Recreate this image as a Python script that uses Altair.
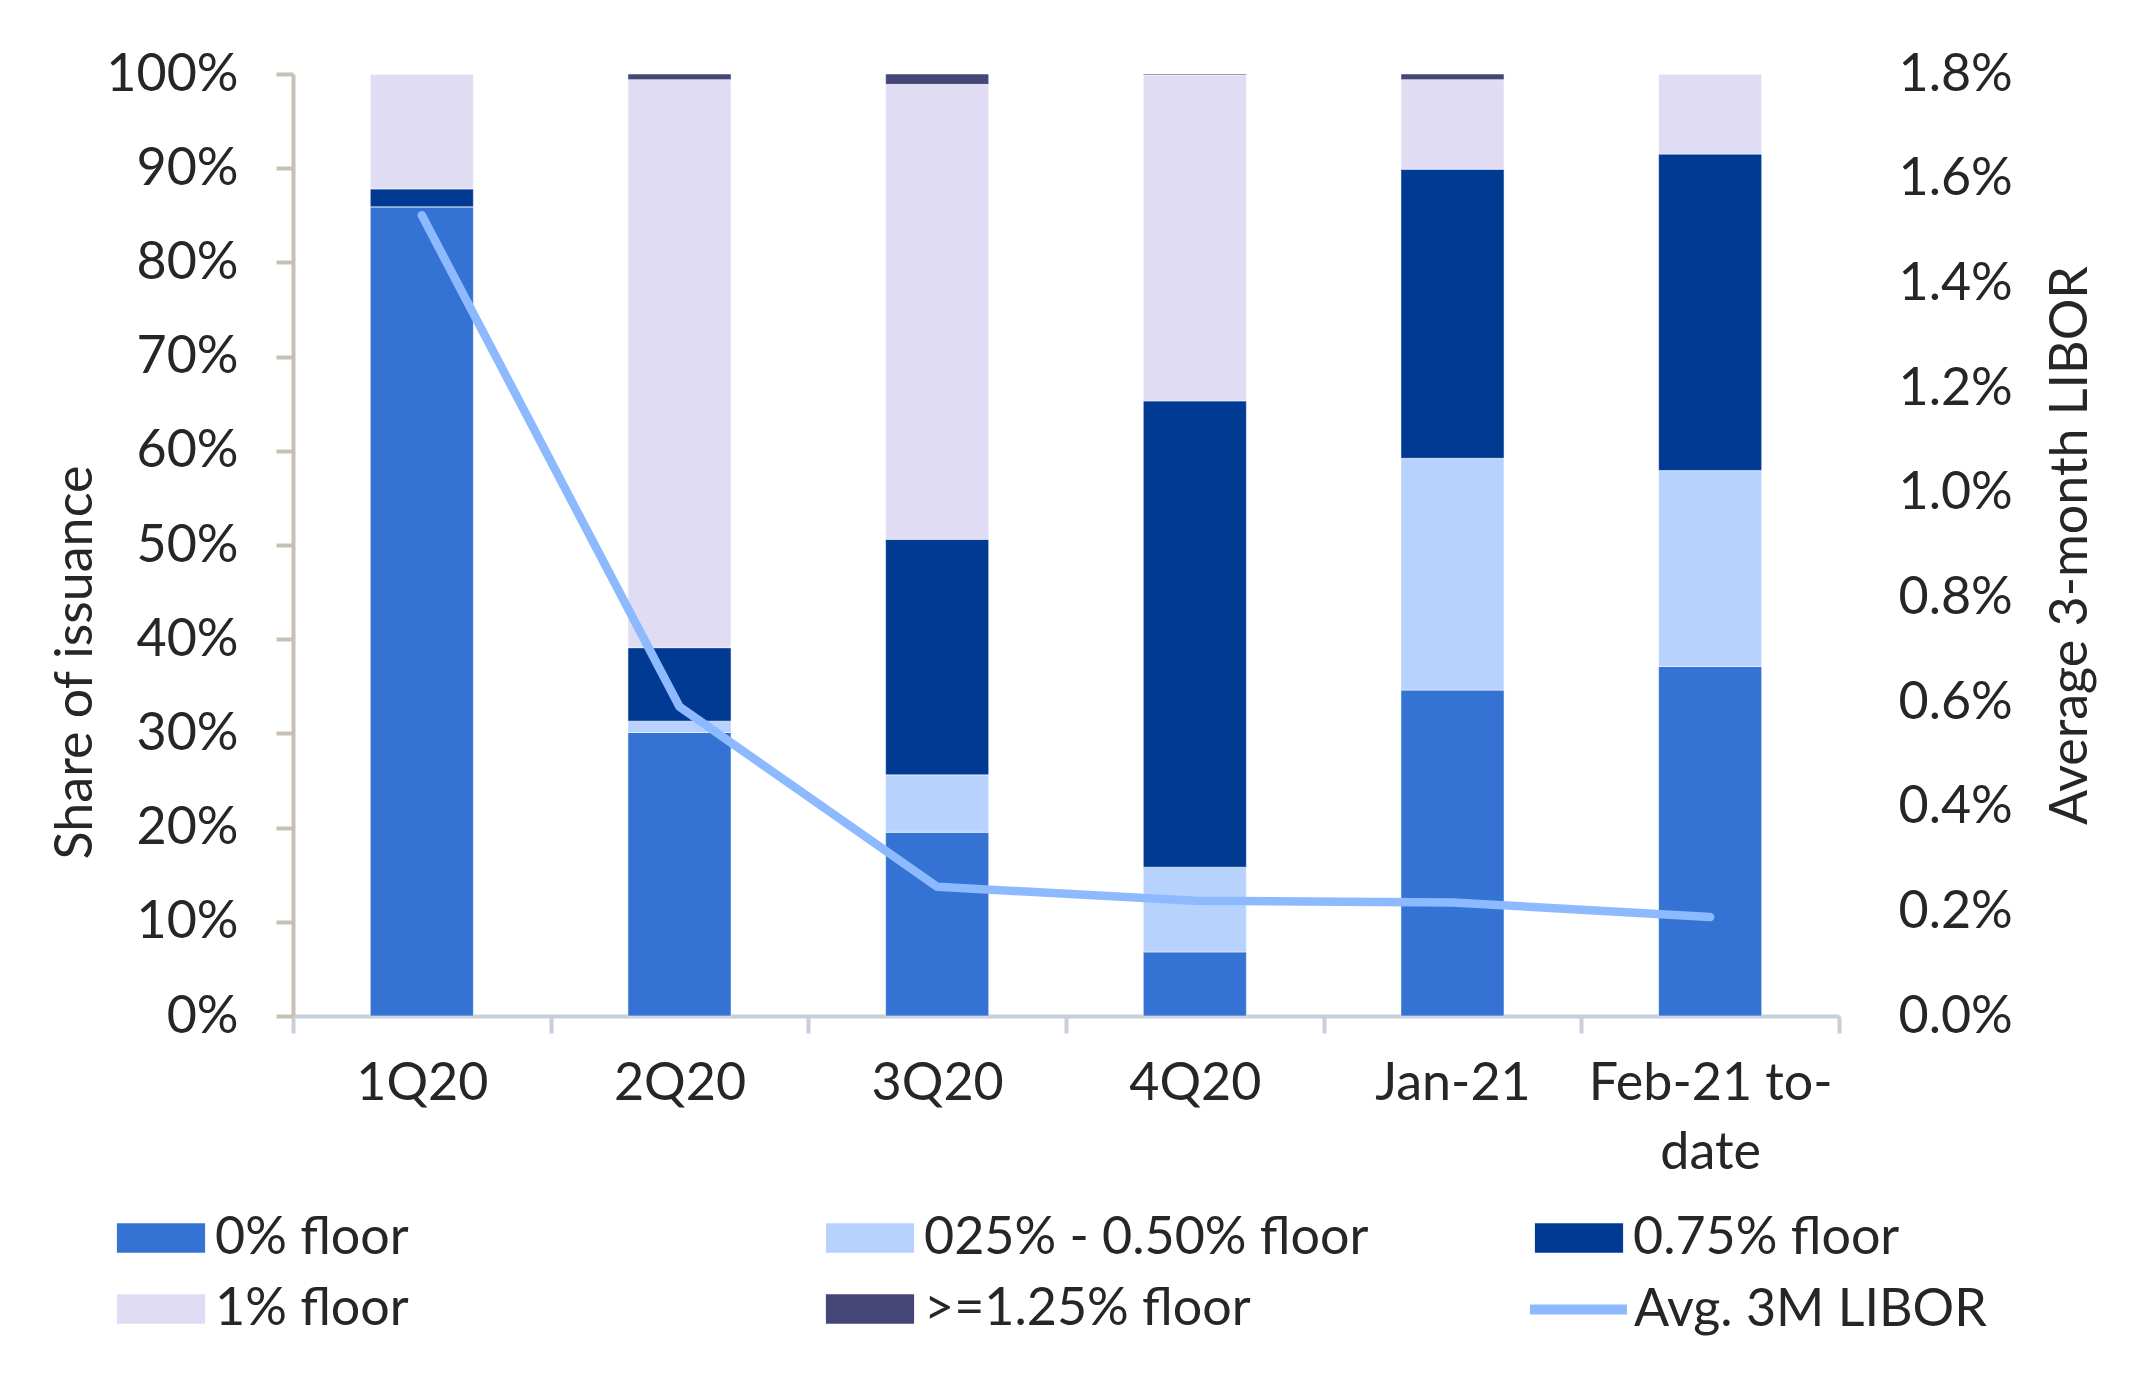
import altair as alt
import pandas as pd

categories = ["1Q20", "2Q20", "3Q20", "4Q20", "Jan-21", "Feb-21 to-date"]
series_names = ["0% floor", "025% - 0.50% floor", "0.75% floor", "1% floor", ">=1.25% floor"]
floor_0 = [85.9, 30.1, 19.5, 6.8, 34.6, 37.1]
floor_025_050 = [0.0, 1.2, 6.1, 9.0, 24.6, 20.8]
floor_075 = [1.9, 7.8, 25.0, 49.5, 30.7, 33.6]
floor_1 = [12.2, 60.3, 48.3, 34.6, 9.5, 8.5]
floor_125 = [0.0, 0.6, 1.1, 0.1, 0.6, 0.0]
libor_label = "Avg. 3M LIBOR"
libor = [1.530, 0.591, 0.247, 0.220, 0.217, 0.189]

series_colors = ["#3473D3", "#B7D3FD", "#003A93", "#E0DCF4", "#454677"]
libor_color = "#8DB9FE"

# legend fills columns first (2 rows), so order the domain to read row by row
legend_order = [0, 3, 1, 4, 2]
legend_domain = [series_names[i] for i in legend_order]
legend_range = [series_colors[i] for i in legend_order]

series_values = [floor_0, floor_025_050, floor_075, floor_1, floor_125]
bar_rows = []
for si, (name, vals) in enumerate(zip(series_names, series_values)):
    for cat, v in zip(categories, vals):
        bar_rows.append({"cat": cat, "series": name, "idx": si, "share": v / 100.0})
bars_df = pd.DataFrame(bar_rows)
line_df = pd.DataFrame({"cat": categories, "series": [libor_label] * len(categories),
                        "rate": [v / 100.0 for v in libor]})

FONT = "Lato"
FS = 52
TXT = "#262626"

x_enc = alt.X(
    "cat:N", sort=categories,
    scale=alt.Scale(paddingInner=0, paddingOuter=0),
    axis=alt.Axis(
        title=None, labelAngle=0, labelFont=FONT, labelFontSize=FS, labelColor=TXT,
        labelPadding=25, labelLineHeight=69, labelLimit=1000,
        labelExpr="datum.value == 'Feb-21 to-date' ? ['Feb-21 to-', 'date'] : datum.label",
        domainColor="#C6CFDB", domainWidth=4, tickColor="#C6CFDB", tickWidth=4, tickSize=17,
        tickBand="extent", grid=False,
    ),
)

bars = alt.Chart(bars_df).mark_bar(
    width=alt.RelativeBandSize(0.4), stroke="white", strokeWidth=1, strokeOpacity=0.5
).encode(
    x=x_enc,
    y=alt.Y(
        "share:Q", stack="zero", scale=alt.Scale(domain=[0, 1], nice=False),
        axis=alt.Axis(
            orient="left", values=[i / 10 for i in range(11)], format=".0%",
            title="Share of issuance", titleFont=FONT, titleFontSize=FS, titleColor=TXT,
            titleFontWeight="normal", titleAngle=270, titleBaseline="alphabetic",
            titleAlign="center", titleX=-202, titleY=588,
            labelFont=FONT, labelFontSize=FS, labelColor=TXT, labelPadding=38,
            domainColor="#C9C0B5", domainWidth=4, tickColor="#C9C0B5", tickWidth=4,
            tickSize=17, grid=False,
        ),
    ),
    color=alt.Color(
        "series:N",
        scale=alt.Scale(domain=legend_domain, range=legend_range),
        legend=alt.Legend(
            title=None, orient="none", legendX=-162, legendY=1134, columns=3,
            gridAlign="all", columnPadding=165, rowPadding=15, padding=0,
            symbolType="M-1.47,-0.49L1.47,-0.49L1.47,0.49L-1.47,0.49Z",
            symbolSize=3600, symbolStrokeWidth=0, labelOffset=24,
            labelFont=FONT, labelFontSize=FS, labelColor=TXT, labelLimit=1000,
        ),
    ),
    order=alt.Order("idx:Q"),
)

line = alt.Chart(line_df).mark_line(strokeWidth=8.5, strokeCap="round", strokeJoin="round").encode(
    x=x_enc,
    y=alt.Y(
        "rate:Q", scale=alt.Scale(domain=[0, 0.018], nice=False),
        axis=alt.Axis(
            orient="right", values=[round(0.002 * i, 3) for i in range(10)], format=".1%",
            title="Average 3-month LIBOR", titleFont=FONT, titleFontSize=FS, titleColor=TXT,
            titleFontWeight="normal", titleAngle=270, titleBaseline="alphabetic",
            titleAlign="center", titleX=247, titleY=471,
            labelFont=FONT, labelFontSize=FS, labelColor=TXT, labelPadding=59,
            domain=False, ticks=False, tickSize=0, grid=False,
        ),
    ),
    stroke=alt.Stroke(
        "series:N",
        scale=alt.Scale(domain=[libor_label], range=[libor_color]),
        legend=alt.Legend(
            title=None, orient="none", legendX=1232, legendY=1182, padding=0,
            symbolType="stroke", symbolSize=9409, symbolStrokeWidth=10, labelOffset=2,
            labelFont=FONT, labelFontSize=FS, labelColor=TXT, labelLimit=1000,
        ),
    ),
)

chart = alt.layer(bars, line).resolve_scale(y="independent").properties(
    width=1546, height=942,
    autosize=alt.AutoSizeParams(type="none"),
    padding={"left": 285, "top": 66, "right": 298, "bottom": 345},
    background="white",
).configure_view(stroke=None)

chart.save("out.html", embed_options={"renderer": "svg", "actions": False})
